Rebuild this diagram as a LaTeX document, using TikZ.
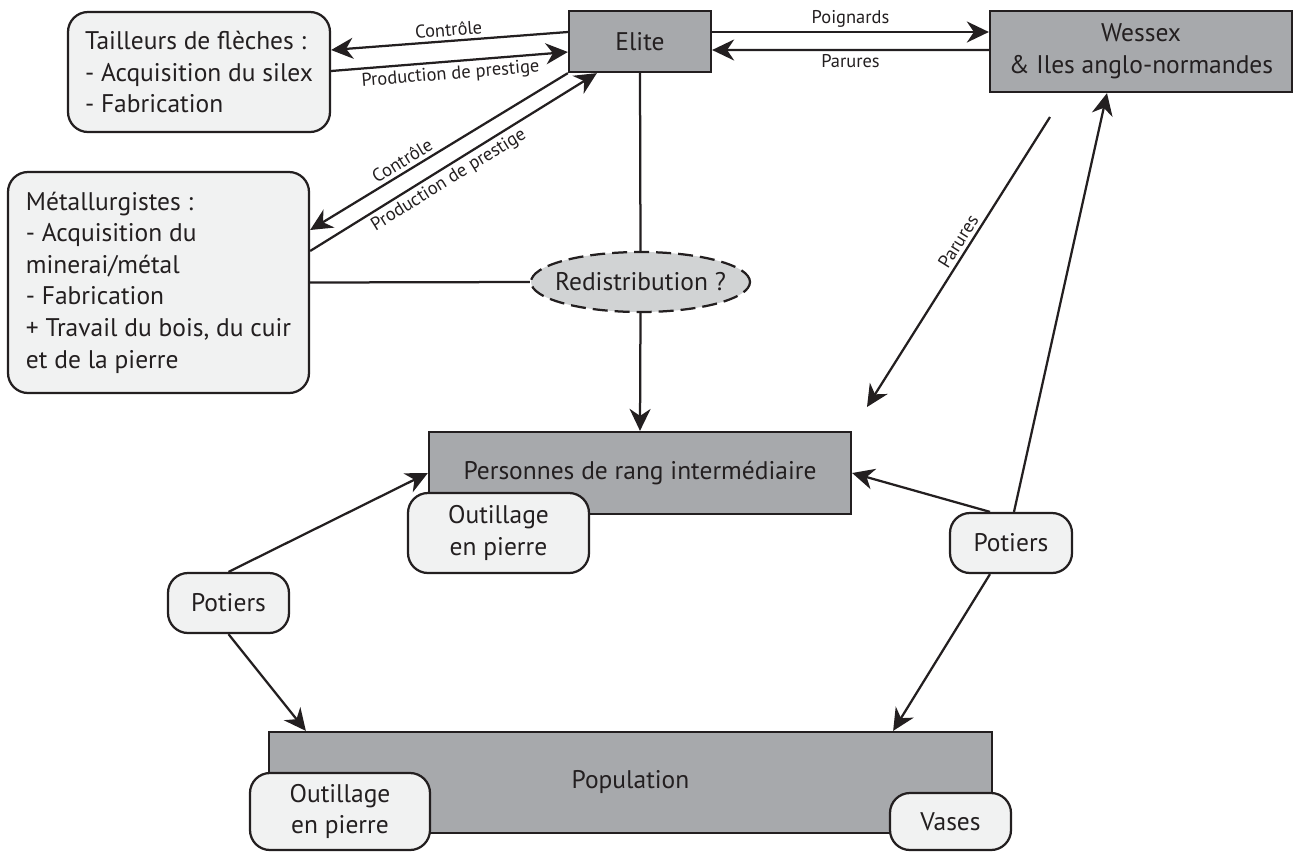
\documentclass[tikz,border=0pt]{standalone}
\usepackage{fontspec}
\setmainfont{PT Sans}
\usetikzlibrary{shapes.geometric,arrows.meta,calc}
\definecolor{boxgray}{HTML}{A7A9AC}
\definecolor{ovalgray}{HTML}{D1D3D4}
\definecolor{palegray}{HTML}{F1F2F2}
\definecolor{inkline}{HTML}{231F20}
\begin{document}
\begin{tikzpicture}[x=0.2mm, y=-0.2mm, line width=0.45mm, color=inkline,
	>={Stealth[length=4.4mm, width=4.2mm, inset=1.4mm]},
	darkbox/.style={draw, fill=boxgray, rectangle, inner sep=0pt, align=center, font=\fontsize{14.5}{18}\selectfont},
	palebox/.style={draw, fill=palegray, rectangle, rounded corners=4mm, inner sep=0pt, align=center, font=\fontsize{14.5}{18}\selectfont},
	redist/.style={draw, dash pattern=on 3mm off 1.4mm, fill=ovalgray, ellipse, inner sep=0pt, font=\fontsize{14.5}{18}\selectfont},
	linklabel/.style={sloped, inner sep=2pt, font=\fontsize{10.5}{12}\selectfont}]
		\useasboundingbox (0, 0) rectangle (1293, 852);
		\node [palebox, align=left, minimum width=52.4mm, minimum height=24mm] (0) at (199, 72) {Tailleurs de flèches :\\- Acquisition du silex\\- Fabrication};
		\node [darkbox, minimum width=28.4mm, minimum height=12.2mm] (1) at (640, 41.5) {Elite};
		\node [darkbox, minimum width=60.4mm, minimum height=16.2mm] (2) at (1141, 51.5) {Wessex\\\& Iles anglo-normandes};
		\node [palebox, align=left, minimum width=60.2mm, minimum height=44.2mm] (3) at (158.5, 282.5) {Métallurgistes :\\- Acquisition du\\minerai/métal\\- Fabrication\\+ Travail du bois, du cuir\\et de la pierre};
		\node [redist, minimum width=43.8mm, minimum height=12mm] (4) at (640.5, 282) {\makebox[0pt]{Redistribution ?}};
		\node [darkbox, minimum width=84.4mm, minimum height=16.4mm] (5) at (640, 473) {Personnes de rang intermédiaire};
		\node [palebox, minimum width=36.2mm, minimum height=16mm] (6) at (498.5, 533) {Outillage\\en pierre};
		\node [palebox, minimum width=24.2mm, minimum height=12mm] (7) at (228.5, 603) {Potiers};
		\node [palebox, minimum width=24.4mm, minimum height=12mm] (8) at (1011, 543) {Potiers};
		\node [darkbox, minimum width=144.6mm, minimum height=20.2mm] (9) at (630.5, 782.5) {Population};
		\node [palebox, minimum width=36mm, minimum height=15.4mm] (10) at (340, 811.5) {Outillage\\en pierre};
		\node [palebox, minimum width=24.2mm, minimum height=11.4mm] (11) at (950.5, 821.5) {Vases};
		\coordinate (12) at (1050, 117);
		\coordinate (13) at (867, 407);

		\draw [->] ($(1.west)+(0,-9.5)$) to node [linklabel, above] {Contrôle} ($(0.east)+(0,-22)$);
		\draw [->] ($(0.east)+(0,-1)$) to node [linklabel, below] {Production de prestige} ($(1.west)+(0,10.5)$);
		\draw [->] (1.south west) to node [linklabel, above, pos=0.62] {Contrôle} ($(3.east)+(0,-52.5)$);
		\draw [->] ($(3.east)+(0,-31.5)$) to node [linklabel, below, pos=0.46] {Production de prestige} ($(1.south west)+(29,0)$);
		\draw [->] ($(1.east)+(0,-9.5)$) to node [linklabel, above] {Poignards} ($(2.west)+(0,-19.5)$);
		\draw [->] ($(2.west)+(0,-1.5)$) to node [linklabel, below] {Parures} ($(1.east)+(0,8.5)$);
		\draw [] (1.south) to (4.north);
		\draw [] (3.east) to (4.west);
		\draw [->] (4.south) to (5.north);
		\draw [->] (12) to node [linklabel, above, pos=0.45] {Parures} (13);
		\draw [->] (7.north) to (5.west);
		\draw [->] (7.south) to ($(9.north west)+(38,0)$);
		\draw [->] ($(8.north)+(-21,0)$) to (5.east);
		\draw [->] ($(8.north)+(3,0)$) to ($(2.south)+(-34,0)$);
		\draw [->] ($(8.south)+(-21,0)$) to ($(9.north east)+(-100,0)$);
\end{tikzpicture}
\end{document}
